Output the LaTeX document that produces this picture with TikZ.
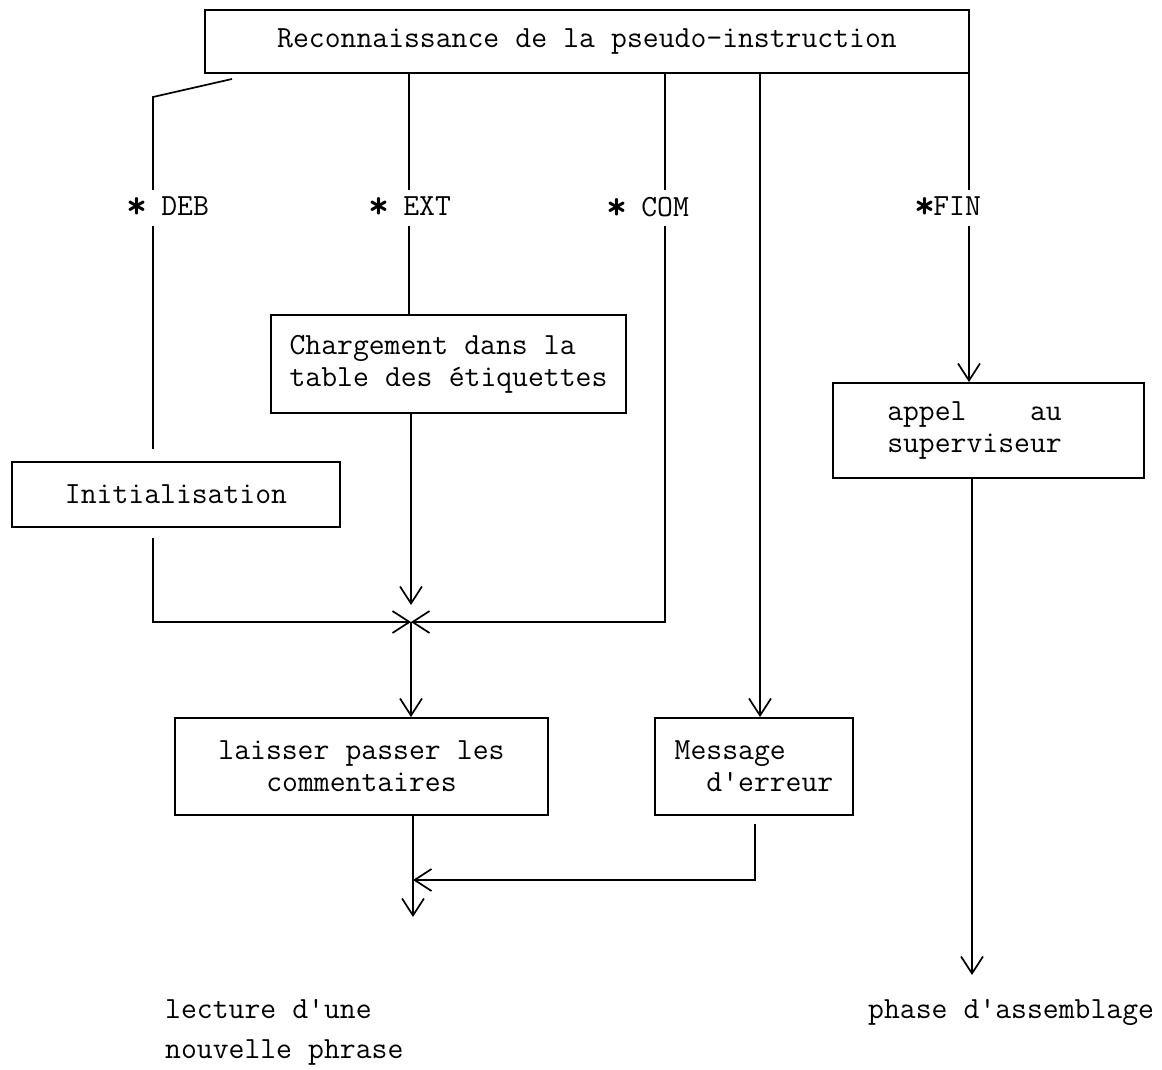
\documentclass[tikz,border=0pt]{standalone}
\usepackage{graphicx}
\usetikzlibrary{arrows.meta}
% typewriter face used throughout, with fixed-pitch word spaces
\newcommand\twfont{\fontsize{30.8}{32}\selectfont\ttfamily
  \fontdimen2\font=0.525em\fontdimen3\font=0pt\fontdimen4\font=0pt}
\newcommand\starsign{\makebox[0.525em]{\raisebox{-0.1em}{\scalebox{1.3}{\textbf{*}}}}}
\begin{document}
\begin{tikzpicture}[x=1pt,y=-1pt,
  every node/.style={font=\twfont},
  box/.style={draw, line width=1.9pt, inner sep=0pt},
  flow/.style={line width=1.7pt},
  arr/.style={flow, -{Straight Barb[length=17pt,width=22pt]}},
  tag/.style={inner sep=0pt, minimum height=36pt},
]
\useasboundingbox (0,0) rectangle (1162,1070);

% processing boxes
\node[box, minimum width=764pt, minimum height=63pt] (reco) at (587,41.5)
  {Reconnaissance de la pseudo-instruction};
\node[box, minimum width=355pt, minimum height=98pt, align=left] (charg) at (448.5,364)
  {Chargement dans la\\table des étiquettes};
\node[box, minimum width=328pt, minimum height=65pt] (init) at (176,494.5) {Initialisation};
\node[box, minimum width=311pt, minimum height=95pt, align=left] (appel) at (988.5,430.5)
  {appel\phantom{xxxx}au\\superviseur\hspace*{28pt}};
\node[box, minimum width=373pt, minimum height=97pt, align=center] (pass) at (361.5,766.5)
  {laisser passer les\\commentaires};
\node[box, minimum width=198pt, minimum height=97pt, align=left] (msg) at (754,766.5)
  {Message\\\phantom{xx}d'erreur};

% branch labels
\node[tag] (deb) at (169,208) {\starsign{} DEB};
\node[tag] (ext) at (411,208) {\starsign{} EXT};
\node[tag] (com) at (649,208) {\starsign{} COM};
\node[tag] (fin) at (949,208) {\starsign{}FIN};

% exits
\node[anchor=west, inner sep=0pt, align=left] (next) at (165,1032)
  {lecture d'une\\[8pt]nouvelle phrase};
\node[anchor=west, inner sep=0pt] (asm) at (868,1012) {phase d'assemblage};

% line positions
\coordinate (xdeb) at (153,0);
\coordinate (xext) at (409,0);
\coordinate (xcom) at (665,0);
\coordinate (xerr) at (760,0);
\coordinate (xfin) at (969,0);
\coordinate (xmsg) at (755,0);
\coordinate (diagA) at (232,79);
\coordinate (diagB) at (153,97);
\coordinate (J) at (411,622);
\coordinate (merge) at (413,880);
\coordinate (out) at (413,917);
\coordinate (asmEnd) at (972,975);

% branches from the recognition box
\draw[flow] (diagA) -- (diagB) -- (xdeb |- deb.north);
\draw[flow, shorten >=12pt] (xdeb |- deb.south) -- (xdeb |- init.north);
\draw[flow] (xext |- reco.south) -- (xext |- ext.north);
\draw[flow] (xext |- ext.south) -- (xext |- charg.north);
\draw[flow] (xcom |- reco.south) -- (xcom |- com.north);
\draw[flow] (xfin |- reco.south) -- (xfin |- fin.north);
\draw[arr] (xfin |- fin.south) -- (xfin |- appel.north);
\draw[arr] (xerr |- reco.south) -- (xerr |- msg.north);

% junction above the comment skipping
\draw[arr, shorten >=17pt] (J |- charg.south) -- (J);
\draw[arr, shorten <=10pt] (xdeb |- init.south) -- (xdeb |- J) -- (J);
\draw[arr] (xcom |- com.south) -- (xcom |- J) -- (J);
\draw[arr] (J) -- (J |- pass.north);

% towards the next sentence
\draw[arr] (out |- pass.south) -- (out);
\draw[arr, shorten <=8pt] (xmsg |- msg.south) -- (xmsg |- merge) -- (merge);

% towards assembly
\draw[arr] (asmEnd |- appel.south) -- (asmEnd);
\end{tikzpicture}
\end{document}
